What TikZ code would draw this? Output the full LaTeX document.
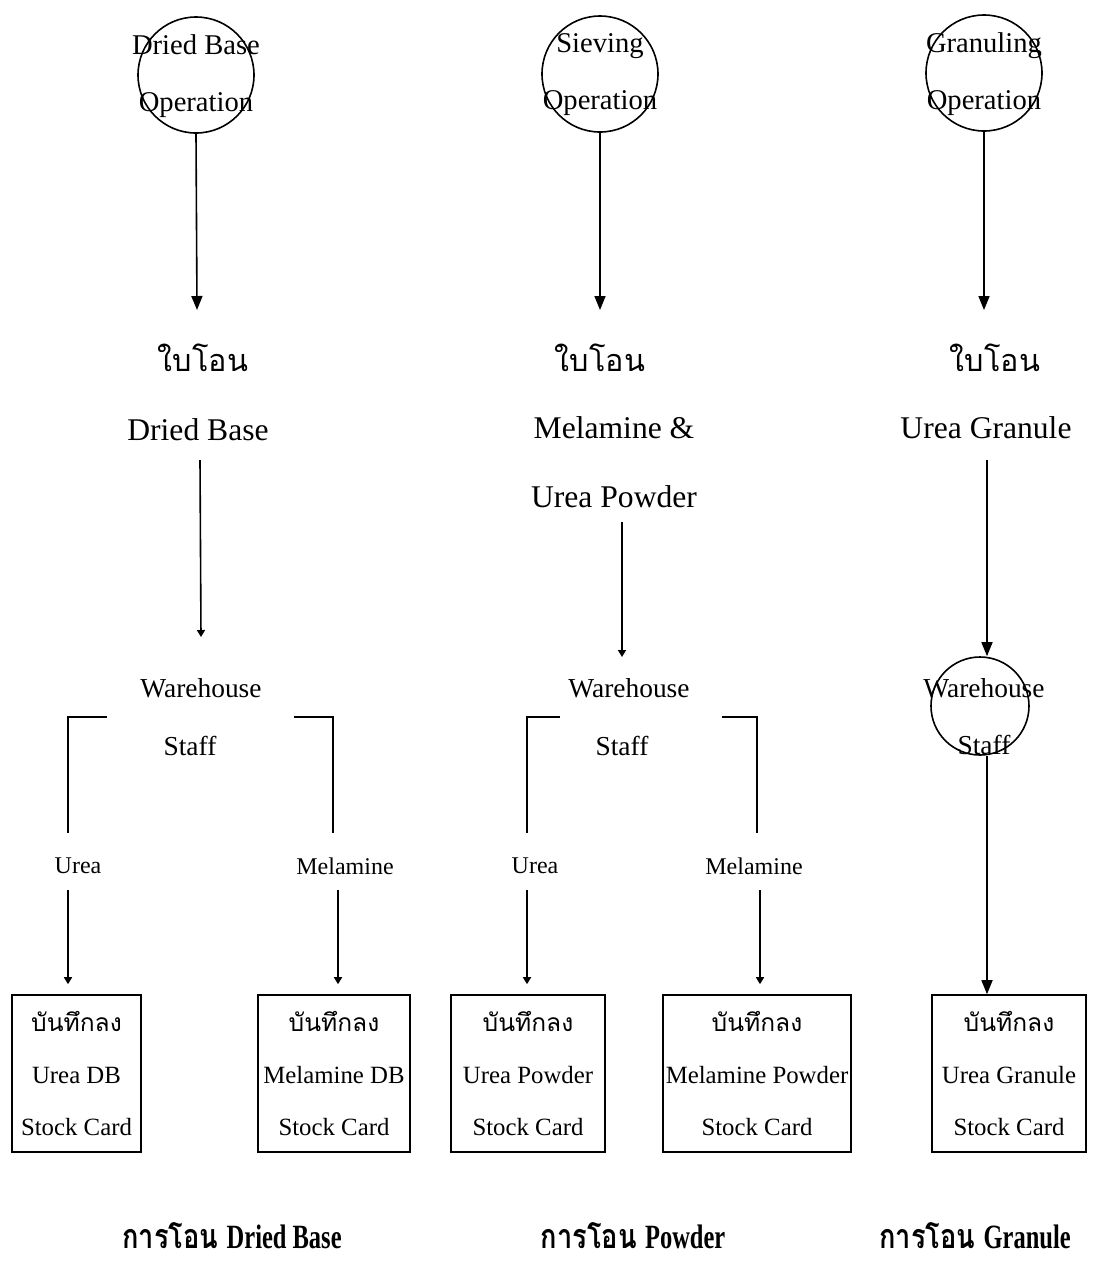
\documentclass[tikz,border=0pt]{standalone}
\usepackage{fontspec}
\setmainfont{Liberation Serif}
\newfontfamily\thai[Script=Thai]{Loma}
\newfontfamily\ttllat[FakeStretch=0.72]{Liberation Serif}
\newfontfamily\ttlthai[Script=Thai,FakeStretch=0.8]{Loma}
\usetikzlibrary{arrows.meta}
\begin{document}
\begin{tikzpicture}[x=0.5pt,y=-0.5pt,line width=0.8pt,
  opc/.style={circle,draw,minimum size=58pt,inner sep=0pt},
  whc/.style={circle,draw,minimum size=49pt,inner sep=0pt},
  optxt/.style={inner sep=0pt,align=center,font=\fontsize{14.3pt}{28.5pt}\selectfont},
  thaitxt/.style={inner sep=0pt,font=\fontsize{15.3pt}{20pt}\selectfont\thai},
  nametxt/.style={inner sep=0pt,align=center,font=\fontsize{15.8pt}{34.5pt}\selectfont},
  whtxt/.style={inner sep=0pt,font=\fontsize{13.7pt}{16pt}\selectfont},
  flowlbl/.style={inner sep=0pt,font=\fontsize{12pt}{14pt}\selectfont},
  card/.style={draw,inner sep=0pt,align=center,minimum height=78.5pt,
    font=\fontsize{12.4pt}{26pt}\selectfont},
  ttl/.style={inner sep=0pt,font=\fontsize{17pt}{20pt}\selectfont\bfseries},
  arr/.style={-{Triangle[length=7pt,width=5.5pt]}},
  tinyarr/.style={-{Triangle[length=3.5pt,width=4pt]}}]
\newcommand{\rec}{{\thai\fontsize{12.3pt}{26pt}\selectfont บันทึกลง}}
\useasboundingbox (0,0) rectangle (1105,1265);

% ---------------- Dried Base ----------------
\node[opc] (op1) at (196,75) {};
\node[optxt] at (196,76) {Dried Base\\Operation};
\node[thaitxt] (tr1) at (203,358) {ใบโอน};
\node[nametxt] (nm1) at (198,430) {Dried Base};
\node[whtxt] (wh1) at (201,688) {Warehouse};
\node[whtxt] (st1) at (190,746) {Staff};
\node[flowlbl] (u1) at (78,866) {Urea};
\node[flowlbl] (m1) at (345,866) {Melamine};
\node[card,minimum width=64.5pt] (bx1) at (76.5,1073.5) {\rec\\Urea DB\\Stock Card};
\node[card,minimum width=76pt] (bx2) at (334,1073.5) {\rec\\Melamine DB\\Stock Card};

\coordinate (a1) at (197,310);
\draw[arr] (op1.south) -- (a1);
\coordinate (a1s) at (200,460);
\coordinate (a1e) at (201,637);
\draw[tinyarr] (a1s) -- (a1e);
\coordinate (k1a) at (107,717);
\coordinate (k1b) at (68,717);
\coordinate (k1c) at (68,833);
\draw (k1a) -- (k1b) -- (k1c);
\coordinate (k2a) at (294,717);
\coordinate (k2b) at (333,717);
\coordinate (k2c) at (333,833);
\draw (k2a) -- (k2b) -- (k2c);
\coordinate (v1) at (68,890);
\draw[tinyarr,shorten >=5pt] (v1) -- (v1 |- bx1.north);
\coordinate (v2) at (338,890);
\draw[tinyarr,shorten >=5pt] (v2) -- (v2 |- bx2.north);

% ---------------- Sieving ----------------
\node[opc] (op2) at (600,74) {};
\node[optxt] at (600,75) {Sieving\\Operation};
\node[thaitxt] (tr2) at (600,358) {ใบโอน};
\node[nametxt] (nm2) at (614,462) {Melamine \&\\Urea Powder};
\node[whtxt] (wh2) at (629,688) {Warehouse};
\node[whtxt] (st2) at (622,746) {Staff};
\node[flowlbl] (u2) at (535,866) {Urea};
\node[flowlbl] (m2) at (754,866) {Melamine};
\node[card,minimum width=77pt] (bx3) at (528,1073.5) {\rec\\Urea Powder\\Stock Card};
\node[card,minimum width=94pt] (bx4) at (757,1073.5) {\rec\\Melamine Powder\\Stock Card};

\coordinate (a2) at (600,310);
\draw[arr] (op2.south) -- (a2);
\coordinate (a2s) at (622,522);
\coordinate (a2e) at (622,657);
\draw[tinyarr] (a2s) -- (a2e);
\coordinate (k3a) at (560,717);
\coordinate (k3b) at (527,717);
\coordinate (k3c) at (527,833);
\draw (k3a) -- (k3b) -- (k3c);
\coordinate (k4a) at (722,717);
\coordinate (k4b) at (757,717);
\coordinate (k4c) at (757,833);
\draw (k4a) -- (k4b) -- (k4c);
\coordinate (v3) at (527,890);
\draw[tinyarr,shorten >=5pt] (v3) -- (v3 |- bx3.north);
\coordinate (v4) at (760,890);
\draw[tinyarr,shorten >=5pt] (v4) -- (v4 |- bx4.north);

% ---------------- Granuling ----------------
\node[opc] (op3) at (984,73) {};
\node[optxt] at (984,74) {Granuling\\Operation};
\node[thaitxt] (tr3) at (995,358) {ใบโอน};
\node[nametxt] (nm3) at (986,428) {Urea Granule};
\node[whc] (wh3) at (980,706) {};
\node[optxt,font=\fontsize{13.7pt}{28.5pt}\selectfont] at (984,717) {Warehouse\\Staff};
\node[card,minimum width=77pt] (bx5) at (1009,1073.5) {\rec\\Urea Granule\\Stock Card};

\coordinate (a3) at (984,310);
\draw[arr] (op3.south) -- (a3);
\coordinate (a3s) at (987,460);
\draw[arr] (a3s) -- (a3s |- wh3.north);
\coordinate (a3b) at (987,756);
\draw[arr] (a3b) -- (a3b |- bx5.north);

% ---------------- titles ----------------
\node[ttl] (t1) at (232,1236) {{\ttlthai การโอน} {\ttllat Dried Base}};
\node[ttl] (t2) at (633,1236) {{\ttlthai การโอน} {\ttllat Powder}};
\node[ttl] (t3) at (975,1236) {{\ttlthai การโอน} {\ttllat Granule}};
\end{tikzpicture}
\end{document}
